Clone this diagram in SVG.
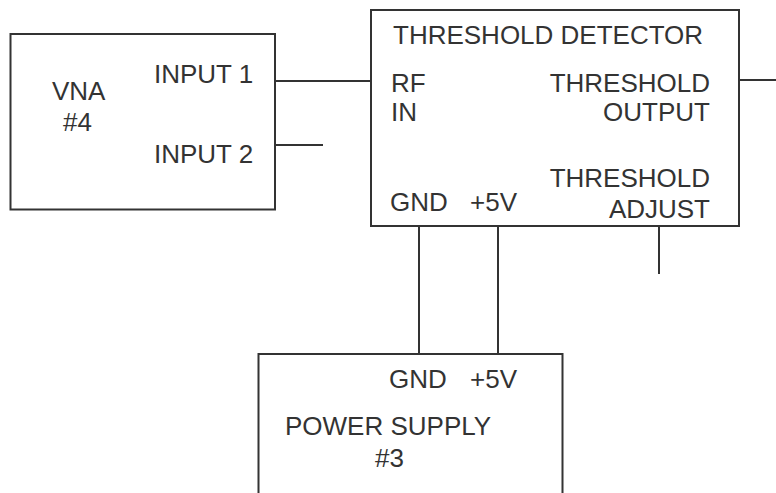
<svg xmlns="http://www.w3.org/2000/svg" width="776" height="493" viewBox="0 0 776 493">
<style>
.box{fill:#fff;stroke:#333;stroke-width:2}
.wire{stroke:#333;stroke-width:2;fill:none}
text{font-family:"Liberation Sans",Arial,sans-serif;font-size:26px;fill:#333}
.r{text-anchor:end}
</style>
<rect width="776" height="493" fill="#fff"/>
<g id="vna">
<rect class="box" x="10.5" y="34" width="264.5" height="175.5"/>
<text x="52" y="100">VNA</text>
<text x="63" y="131">#4</text>
<text x="154" y="83">INPUT 1</text>
<text x="154" y="163">INPUT 2</text>
</g>
<g id="detector">
<rect class="box" x="371" y="10" width="368" height="216"/>
<text x="393" y="44">THRESHOLD DETECTOR</text>
<text x="391" y="92">RF</text>
<text x="391" y="121">IN</text>
<text class="r" x="710" y="92">THRESHOLD</text>
<text class="r" x="710" y="121">OUTPUT</text>
<text class="r" x="710" y="187">THRESHOLD</text>
<text class="r" x="710" y="218">ADJUST</text>
<text x="390" y="211">GND</text>
<text x="470" y="211">+5V</text>
</g>
<g id="power">
<path class="box" d="M258.5,493 V354 H562.5 V493"/>
<text x="389" y="388">GND</text>
<text x="470" y="388">+5V</text>
<text x="285" y="435">POWER SUPPLY</text>
<text x="375" y="467">#3</text>
</g>
<g id="connectors">
<line class="wire" x1="275" y1="81" x2="371" y2="81"/>
<line class="wire" x1="275" y1="145" x2="323" y2="145"/>
<line class="wire" x1="739" y1="80" x2="776" y2="80"/>
<line class="wire" x1="419" y1="226" x2="419" y2="354"/>
<line class="wire" x1="498" y1="226" x2="498" y2="354"/>
<line class="wire" x1="659" y1="226" x2="659" y2="274"/>
</g>
</svg>
